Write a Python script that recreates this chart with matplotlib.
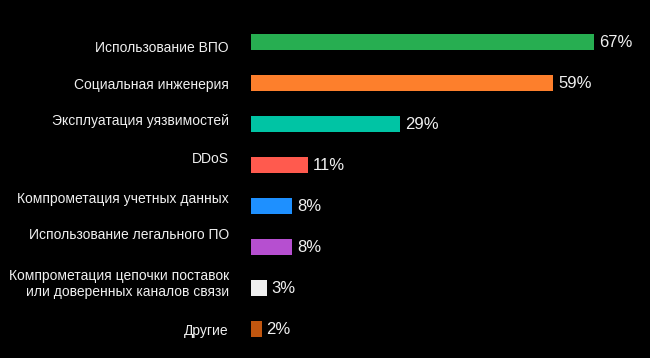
import matplotlib
matplotlib.use("Agg")
import matplotlib.pyplot as plt

categories = [
    "Использование ВПО",
    "Социальная инженерия",
    "Эксплуатация уязвимостей",
    "DDoS",
    "Компрометация учетных данных",
    "Использование легального ПО",
    "Компрометация цепочки поставок\nили доверенных каналов связи",
    "Другие",
]
values = [67, 59, 29, 11, 8, 8, 3, 2]
value_labels = ["67%", "59%", "29%", "11%", "8%", "8%", "3%", "2%"]

colors = ["#27ae51", "#fd7f2c", "#00c4a4", "#ff5a4e", "#1e90ff", "#b64fd0", "#f0f0f0", "#c0560f"]
# vertical nudges (pixels, positive = down) of category labels relative to their bars
label_offsets_px = [6, 2, -3, -6.5, -7, -12, -4, 2]

plt.rcParams["font.family"] = ["Liberation Sans", "DejaVu Sans"]

fig = plt.figure(figsize=(6.5, 3.58), dpi=100)
fig.patch.set_facecolor("black")
ax = fig.add_axes([251.3 / 650, 0.0237, 358.4 / 650, 0.9162])
ax.set_facecolor("black")

ypos = list(range(len(categories)))
ax.barh(ypos, values, height=0.39, color=colors, edgecolor="none")
ax.set_xlim(0, 70)
ax.set_ylim(len(categories) - 0.5, -0.5)
ax.axis("off")

px2pt = 72 / 100
for i, (cat, v, vl) in enumerate(zip(categories, values, value_labels)):
    ax.annotate(cat, xy=(0, i), xytext=(-22.3 * px2pt, -label_offsets_px[i] * px2pt),
                textcoords="offset points", ha="right", va="center",
                fontsize=10, color="#f0f0f0", linespacing=1.1, multialignment="right")
    ax.annotate(vl, xy=(v, i), xytext=(5 * px2pt, 0), textcoords="offset points",
                ha="left", va="center", fontsize=12, color="#f0f0f0")

fig.savefig("out.png", dpi=100, facecolor="black")
